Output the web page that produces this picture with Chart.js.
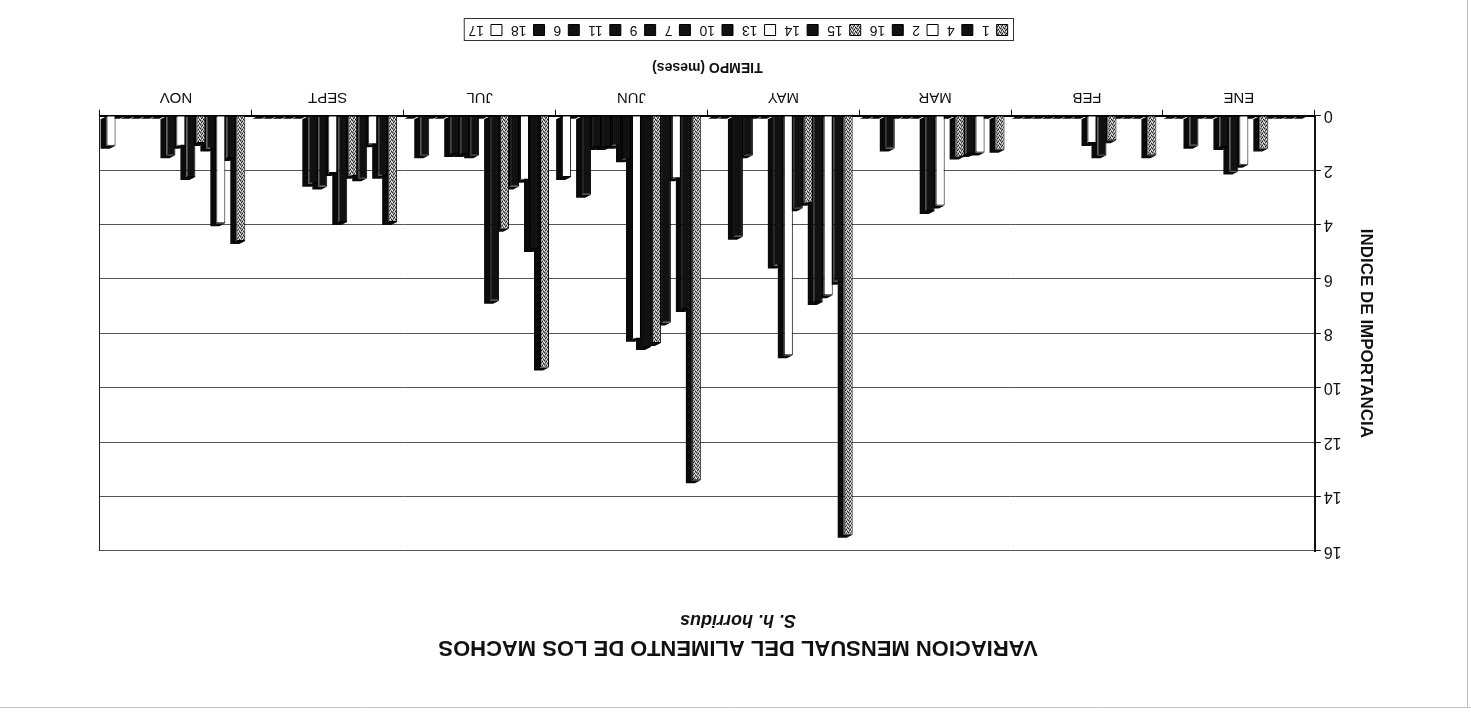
<!DOCTYPE html>
<html>
<head>
<meta charset="utf-8">
<script src="https://cdn.jsdelivr.net/npm/chart.js@4.4.0/dist/chart.umd.min.js"></script>
<style>
  html, body { margin: 0; padding: 0; background: #fff; overflow: hidden; }
  /* the scanned page is upside down, so the whole chart is turned round */
  #wrap { width: 1471px; height: 718px; transform: rotate(180deg); }
</style>
</head>
<body>
<div id="wrap"><canvas id="chart" width="1471" height="718"></canvas></div>
<script>
// --- Data (months left to right, one array per prey item) ---
const months = ['ENE', 'FEB', 'MAR', 'MAY', 'JUN', 'JUL', 'SEPT', 'NOV'];
const yTicks = [0, 2, 4, 6, 8, 10, 12, 14, 16];

const s1  = [0, 1.45, 1.25, 15.4, 13.4, 9.25, 3.9, 4.6];
const s4  = [0, 0, 0, 6.1, 7.1, 4.9, 2.2, 1.55];
const s2  = [0, 0, 1.35, 6.6, 2.3, 2.35, 1.05, 3.95];
const s16 = [0, 0, 1.4, 6.85, 7.6, 2.6, 2.3, 1.2];
const s15 = [1.2, 0.9, 1.5, 3.2, 8.35, 4.15, 2.2, 1.0];
const s14 = [0, 1.45, 0, 3.4, 8.5, 6.8, 3.9, 2.25];
const s13 = [1.8, 1.0, 3.3, 8.8, 8.2, 0, 2.1, 1.1];
const s10 = [2.05, 0, 3.5, 5.5, 1.6, 1.45, 2.6, 1.45];
const s7  = [1.15, 0, 0, 0, 1.1, 1.4, 2.5, 0];
const s9  = [0, 0, 0, 0, 1.15, 1.4, 0, 0];
const s11 = [0, 0, 0, 1.45, 1.15, 0, 0, 0];
const s6  = [1.1, 0, 1.2, 4.45, 2.9, 0, 0, 0];
const s18 = [0, 0, 0, 0, 0, 1.45, 0, 0];
const s17 = [0, 0, 0, 0, 2.25, 0, 0, 1.1];

// --- Fills ---
const canvas = document.getElementById('chart');
const ctx = canvas.getContext('2d');

function stipple() {
  const c = document.createElement('canvas');
  c.width = 4; c.height = 4;
  const g = c.getContext('2d');
  g.fillStyle = '#9c9c9c'; g.fillRect(0, 0, 4, 4);
  g.fillStyle = '#222';
  g.fillRect(0, 0, 1, 1); g.fillRect(2, 1, 1, 1); g.fillRect(1, 3, 1, 1); g.fillRect(3, 2, 1, 1);
  g.fillStyle = '#f2f2f2';
  g.fillRect(2, 3, 1, 1); g.fillRect(0, 2, 1, 1); g.fillRect(3, 0, 1, 1);
  return ctx.createPattern(c, 'repeat');
}
const PAT = stipple();
const BLACK = '#111';
const WHITE = '#fff';

const series = [
  ['1', s1, PAT], ['4', s4, BLACK], ['2', s2, WHITE], ['16', s16, BLACK],
  ['15', s15, PAT], ['14', s14, BLACK], ['13', s13, WHITE], ['10', s10, BLACK],
  ['7', s7, BLACK], ['9', s9, BLACK], ['11', s11, BLACK], ['6', s6, BLACK],
  ['18', s18, BLACK], ['17', s17, WHITE],
];

// --- Plugins ---
// dark depth side of each column, drawn behind the faces
const depthSides = {
  id: 'depthSides',
  beforeDatasetsDraw(chart) {
    const c = chart.ctx;
    const dx = 6, dy = -3;
    c.save();
    c.fillStyle = '#0a0a0a';
    chart.data.datasets.forEach((ds, i) => {
      const meta = chart.getDatasetMeta(i);
      meta.data.forEach(bar => {
        const { x, y, base, width } = bar.getProps(['x', 'y', 'base', 'width'], true);
        const l = x - width / 2, r = x + width / 2;
        c.beginPath();
        c.moveTo(l, y);
        c.lineTo(l + dx, y + dy);
        c.lineTo(r + dx, y + dy);
        c.lineTo(r + dx, base + dy);
        c.lineTo(r, base);
        c.lineTo(r, y);
        c.closePath();
        c.fill();
      });
    });
    c.restore();
  },
};

// plot frame, legend box and page edge
const frames = {
  id: 'frames',
  afterDraw(chart) {
    const c = chart.ctx;
    const a = chart.chartArea;
    c.save();
    c.strokeStyle = '#222';
    c.lineWidth = 1;
    c.beginPath();
    c.moveTo(a.right + 0.5, a.top);
    c.lineTo(a.right + 0.5, a.bottom);
    c.stroke();

    const boxes = chart.legend.legendHitBoxes;
    if (boxes && boxes.length) {
      const minX = Math.min(...boxes.map(b => b.left));
      const maxX = Math.max(...boxes.map(b => b.left + b.width));
      const top = Math.min(...boxes.map(b => b.top));
      const bot = Math.max(...boxes.map(b => b.top + b.height));
      c.strokeStyle = '#333';
      c.strokeRect(Math.round(minX - 6) + 0.5, Math.round(top - 4) + 0.5, maxX - minX + 10, bot - top + 8);
    }

    c.strokeStyle = '#c4c4c4';
    c.beginPath();
    c.moveTo(0, 10.5); c.lineTo(chart.width, 10.5);
    c.moveTo(3.5, 10); c.lineTo(3.5, chart.height);
    c.stroke();
    c.restore();
  },
};

Chart.defaults.font.family = '"Liberation Sans", Arial, sans-serif';
Chart.defaults.color = '#111';

new Chart(ctx, {
  type: 'bar',
  data: {
    labels: months,
    datasets: series.map(([name, values, fill]) => ({
      label: name,
      data: values,
      backgroundColor: fill,
      borderColor: '#000',
      borderWidth: 1,
      categoryPercentage: 0.92,
      barPercentage: 0.9,
    })),
  },
  options: {
    responsive: false,
    animation: false,
    devicePixelRatio: 1,
    layout: { padding: { left: 95, right: 100, top: 0, bottom: 13 } },
    plugins: {
      tooltip: { enabled: false },
      title: {
        display: true,
        text: 'VARIACION MENSUAL DEL ALIMENTO DE LOS MACHOS',
        font: { size: 22, weight: 'bold' },
        padding: { top: 58, bottom: 3 },
      },
      subtitle: {
        display: true,
        text: 'S. h. horridus',
        font: { size: 18, weight: 'bold', style: 'italic' },
        padding: { top: 0, bottom: 58 },
      },
      legend: {
        position: 'bottom',
        labels: {
          boxWidth: 11,
          boxHeight: 11,
          padding: 9,
          font: { size: 14 },
        },
      },
    },
    scales: {
      x: {
        grid: { display: true, drawOnChartArea: false, tickLength: 6, color: '#111' },
        border: { color: '#000', width: 2 },
        ticks: { font: { size: 15 }, padding: 4 },
        title: {
          display: true,
          text: 'TIEMPO (meses)',
          font: { size: 14, weight: 'bold' },
          padding: { top: 9, bottom: 12 },
        },
      },
      y: {
        min: 0,
        max: 16,
        afterBuildTicks(scale) { scale.ticks = yTicks.map(v => ({ value: v })); },
        grid: { color: '#555', tickColor: '#111', tickLength: 6 },
        border: { color: '#111', width: 2 },
        ticks: { font: { size: 16 }, padding: 3 },
        title: {
          display: true,
          text: 'INDICE DE IMPORTANCIA',
          font: { size: 17, weight: 'bold' },
          padding: { top: 0, bottom: 11 },
        },
      },
    },
  },
  plugins: [depthSides, frames],
});
</script>
</body>
</html>
